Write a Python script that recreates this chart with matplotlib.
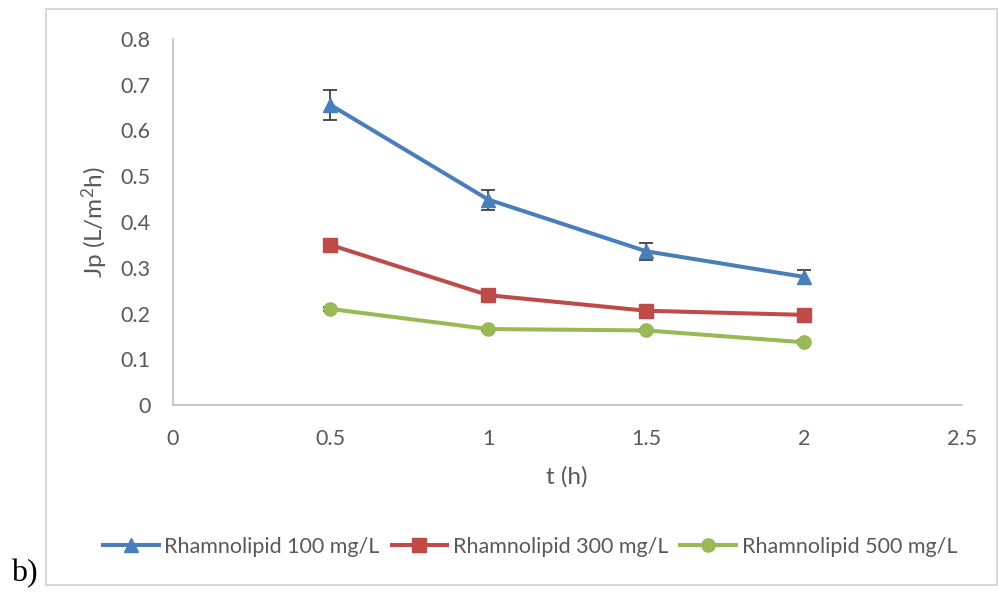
import matplotlib
matplotlib.use('Agg')
import matplotlib.pyplot as plt
from matplotlib.patches import Rectangle

# flux data, rhamnolipid runs
t_hours = [0.5, 1.0, 1.5, 2.0]
jp_100 = [0.656, 0.449, 0.336, 0.280]
err_100 = [0.033, 0.022, 0.018, 0.015]
jp_300 = [0.350, 0.240, 0.206, 0.197]
err_300 = [0.012, 0.005, 0.005, 0.005]
jp_500 = [0.210, 0.166, 0.163, 0.137]
err_500 = [0.004, 0.004, 0.004, 0.004]

labels = ['Rhamnolipid 100 mg/L', 'Rhamnolipid 300 mg/L', 'Rhamnolipid 500 mg/L']
colors = ['#4A7EBB', '#BE4B48', '#98B954']
markers = ['^', 's', 'o']

plt.rcParams['font.family'] = ['Lato', 'DejaVu Sans']
text_col = '#595959'

W, H = 998, 592
fig = plt.figure(figsize=(W / 100, H / 100), dpi=100)
ax_l, ax_r, ax_b, ax_t = 172.5, 962, 405, 39
ax = fig.add_axes([ax_l / W, (H - ax_b) / H, (ax_r - ax_l) / W, (ax_b - ax_t) / H])

series = [(jp_100, err_100), (jp_300, err_300), (jp_500, err_500)]
handles = []
for (vals, errs), lab, c, m in zip(series, labels, colors, markers):
    ax.errorbar(t_hours, vals, yerr=errs, fmt='none', ecolor='#404040',
                elinewidth=1.3, capsize=5, capthick=1.3, zorder=2)
    h, = ax.plot(t_hours, vals, color=c, lw=2.9, marker=m, ms=10 if m != 'o' else 9.5,
                 markeredgecolor=c, label=lab, zorder=3)
    handles.append(h)

ax.set_xlim(0, 2.5)
ax.set_ylim(0, 0.8)
ax.set_xticks([0, 0.5, 1, 1.5, 2, 2.5])
ax.set_xticklabels(['0', '0.5', '1', '1.5', '2', '2.5'])
ax.set_yticks([0, 0.1, 0.2, 0.3, 0.4, 0.5, 0.6, 0.7, 0.8])
ax.set_yticklabels(['0', '0.1', '0.2', '0.3', '0.4', '0.5', '0.6', '0.7', '0.8'])

for side in ['top', 'right']:
    ax.spines[side].set_visible(False)
for side in ['left', 'bottom']:
    ax.spines[side].set_color('#BFBFBF')
    ax.spines[side].set_linewidth(1.2)
ax.tick_params(length=0, labelsize=15.5, labelcolor=text_col)
ax.tick_params(axis='y', pad=16)
ax.tick_params(axis='x', pad=17)

ax.set_xlabel('t (h)', fontsize=17.5, color=text_col)
ax.set_ylabel(r'Jp (L/m$\mathregular{^2}$h)', fontsize=17.5, color=text_col)
ax.xaxis.set_label_coords((567 - ax_l) / (ax_r - ax_l), (ax_b - 466) / (ax_b - ax_t))
ax.yaxis.set_label_coords((110 - ax_l) / (ax_r - ax_l), (ax_b - 222) / (ax_b - ax_t))

fig.legend(handles=handles, loc='center', bbox_to_anchor=(530 / W, (H - 547) / H),
           ncol=3, frameon=False, fontsize=15.5, labelcolor=text_col,
           handlelength=2.6, handletextpad=0.25, columnspacing=0.55)

# light frame around the chart area
fig.patches.append(Rectangle((46 / W, (H - 585) / H), (997 - 46) / W, (585 - 9) / H,
                             transform=fig.transFigure, fill=False,
                             edgecolor='#D9D9D9', lw=1.5))

fig.text(11 / W, (H - 574) / H, 'b)', fontsize=23, family='Liberation Serif',
         color='black', va='center', ha='left')

fig.savefig('out.png', dpi=100)
